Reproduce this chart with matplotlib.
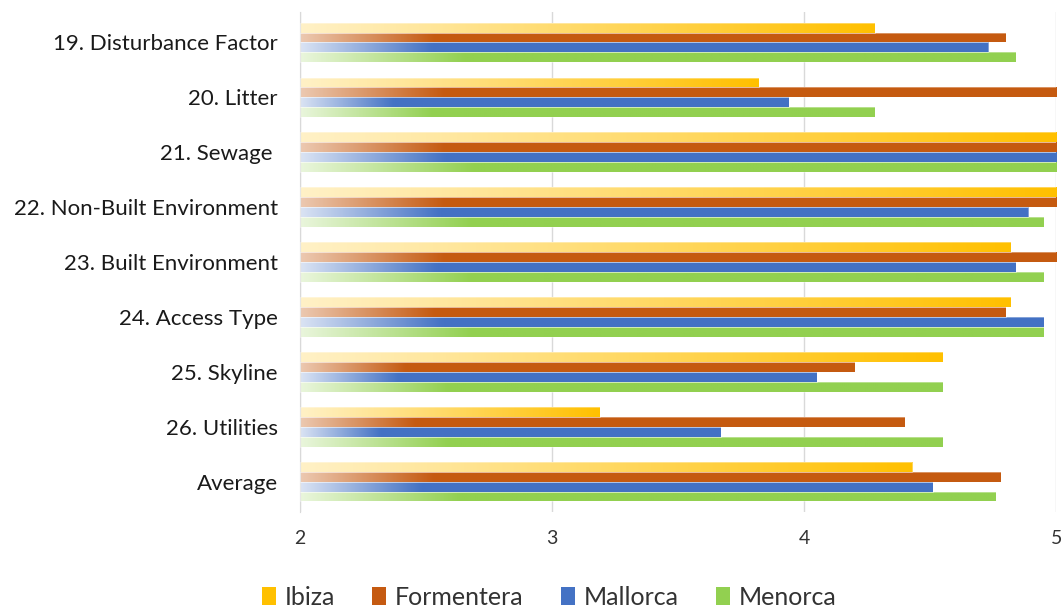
import matplotlib.pyplot as plt
import numpy as np
from matplotlib.colors import to_rgb
from matplotlib.patches import Patch

categories = ["19. Disturbance Factor", "20. Litter", "21. Sewage ",
              "22. Non-Built Environment", "23. Built Environment",
              "24. Access Type", "25. Skyline", "26. Utilities", "Average"]
islands = ["Ibiza", "Formentera", "Mallorca", "Menorca"]

ibiza = [4.28, 3.82, 5.00, 5.00, 4.82, 4.82, 4.55, 3.19, 4.43]
formentera = [4.80, 5.00, 5.00, 5.00, 5.00, 4.80, 4.20, 4.40, 4.78]
mallorca = [4.73, 3.94, 5.00, 4.89, 4.84, 4.95, 4.05, 3.67, 4.51]
menorca = [4.84, 4.28, 5.00, 4.95, 4.95, 4.95, 4.55, 4.55, 4.76]

colors = ["#FFC000", "#C55A11", "#4472C4", "#92D050"]
# where the gradient reaches the full colour, as a fraction of bar length
fade_end = [1.0, 0.19, 0.19, 0.23]
start_mix = [0.22, 0.33, 0.20, 0.20]

XMIN = 2.0
plt.rcParams['font.family'] = ['Lato', 'DejaVu Sans']

fig = plt.figure(figsize=(10.62, 6.13), dpi=100)
ax = fig.add_axes([0.2825, 0.165, 0.712, 0.815])

series = [ibiza, formentera, mallorca, menorca]
y = np.arange(len(categories))
h = 0.18


def gradient_img(color, mix0, frac, n=256):
    c = np.array(to_rgb(color))
    t = np.linspace(0, 1, n)
    w = np.clip(t / frac, 0, 1)
    w = mix0 + (1 - mix0) * w
    rgb = 1 - w[:, None] * (1 - c[None, :])
    return rgb[None, :, :]


for k, (vals, col) in enumerate(zip(series, colors)):
    offs = (k - 1.5) * h
    bars = ax.barh(y + offs, np.array(vals) - XMIN, left=XMIN, height=h,
                   facecolor="none", edgecolor=(1, 1, 1, 0.5), linewidth=0.5,
                   zorder=3)
    img = gradient_img(col, start_mix[k], fade_end[k])
    for b, v, yy in zip(bars, vals, y + offs):
        im = ax.imshow(img, extent=[XMIN, v, yy + h / 2, yy - h / 2],
                       aspect="auto", interpolation="bilinear", zorder=2)
        im.set_clip_path(b)

ax.set_xlim(2, 5)
ax.set_ylim(len(categories) - 0.45, -0.55)
ax.set_xticks([2, 3, 4, 5])
ax.set_yticks(y)
ax.set_yticklabels(categories, fontsize=16, color="#1a1a1a")
ax.tick_params(axis="x", labelsize=14, labelcolor="#333333", length=0, pad=13)
ax.tick_params(axis="y", length=0, pad=16)
ax.xaxis.grid(True, color="#D9D9D9", linewidth=1)
ax.set_axisbelow(True)
for s in ["top", "right", "bottom"]:
    ax.spines[s].set_visible(False)
ax.spines["left"].set_color("#D9D9D9")

handles = [Patch(facecolor=c, edgecolor="none") for c in colors]
fig.legend(handles, islands, loc="lower center", ncol=4, frameon=False,
           fontsize=18, bbox_to_anchor=(0.517, -0.03), handlelength=0.55,
           handleheight=0.75, handletextpad=0.35, columnspacing=1.5,
           labelcolor="#333333")

fig.savefig("out.png", dpi=100)
